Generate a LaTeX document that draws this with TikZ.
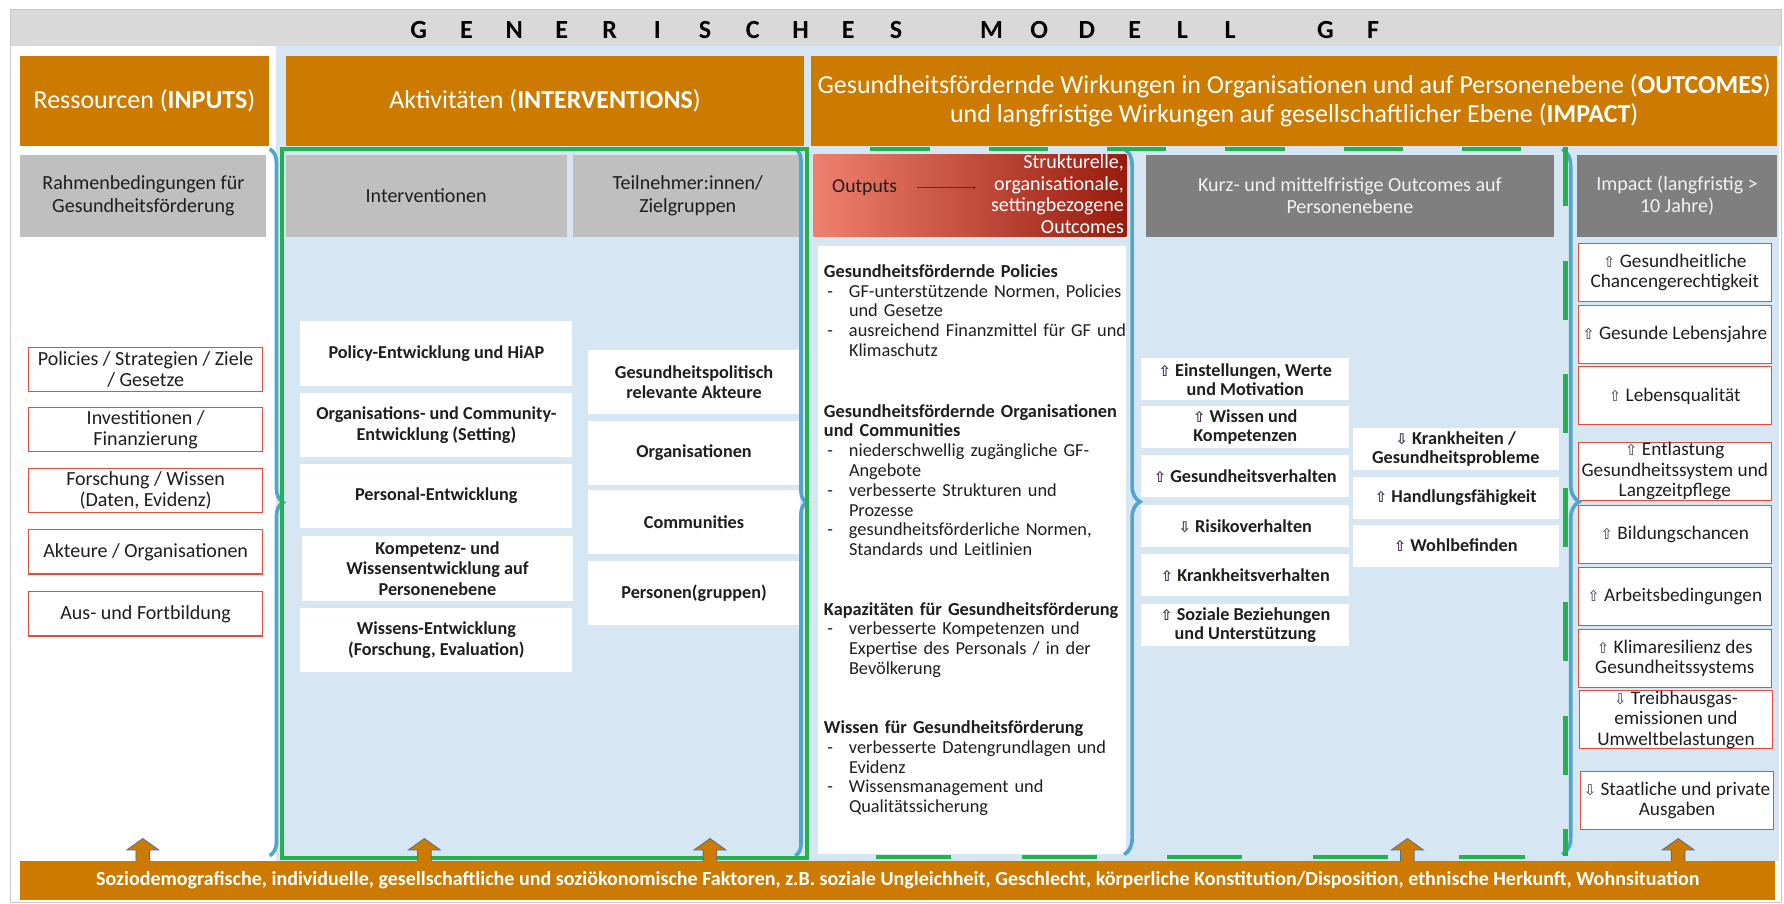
\documentclass[tikz,border=0pt]{standalone}
\usepackage{fontspec}
\setmainfont{Carlito}
\newfontfamily\arrowfont{DejaVu Sans}
\usetikzlibrary{decorations.pathreplacing,arrows.meta}
\definecolor{hdrorange}{RGB}{204,122,0}
\definecolor{bgblue}{RGB}{215,230,243}
\definecolor{lgray}{RGB}{191,191,191}
\definecolor{dgray}{RGB}{127,127,127}
\definecolor{bandgray}{RGB}{217,217,217}
\definecolor{framegray}{RGB}{200,200,200}
\definecolor{boxred}{RGB}{232,76,61}
\definecolor{bracecol}{RGB}{79,166,204}
\definecolor{gfgreen}{RGB}{34,177,76}
\definecolor{txtdark}{RGB}{30,30,30}
\definecolor{arrcol}{RGB}{70,50,80}
\definecolor{arrblue}{RGB}{80,110,150}
\definecolor{arrdark}{RGB}{110,40,30}
\definecolor{outL}{RGB}{240,128,110}
\definecolor{outM}{RGB}{226,50,28}
\definecolor{outR}{RGB}{150,28,14}
\newcommand\gfup{{\arrowfont\fontsize{13}{13}\selectfont\color{arrcol}⇧}}
\newcommand\gfdn{{\arrowfont\fontsize{13}{13}\selectfont\color{arrcol}⇩}}
\newcommand\gfbul{\makebox[22pt][l]{\hspace{3pt}-}}
\newcommand\gfind{\hspace*{22pt}}
\newcommand\gfltr[1]{\makebox[41.95pt]{#1}}
\begin{document}
\begin{tikzpicture}[x=1pt,y=-1pt,
  rect/.style 2 args={minimum width=#1pt, minimum height=#2pt, inner sep=0pt, outer sep=0pt, align=center},
  orangehdr/.style={fill=hdrorange, text=white, font=\fontsize{22.8}{25}\selectfont},
  grayhdr/.style={fill=lgray, text=txtdark, font=\fontsize{17.6}{20}\selectfont},
  darkhdr/.style={fill=dgray, text=white!95!black, font=\fontsize{17.6}{20}\selectfont},
  redbox/.style={fill=white, draw=boxred, line width=0.9pt, text=txtdark, font=\fontsize{17.6}{18.5}\selectfont},
  whitebox/.style={fill=white, text=txtdark, font=\bfseries\fontsize{16}{18}\selectfont},
  outbox/.style={fill=white, text=txtdark, font=\bfseries\fontsize{16}{17}\selectfont},
  impbox/.style={fill=white, draw=boxred, line width=0.9pt, text=txtdark, font=\fontsize{16.9}{18}\selectfont},
  otext/.style={anchor=north west, inner sep=0pt, text width=268pt, align=left, text=txtdark, font=\fontsize{16.1}{17.4}\selectfont},
  bracestyle/.style={draw=bracecol, line width=3.2pt, decorate, decoration={brace, amplitude=#1}},
  greenline/.style={draw=gfgreen, line width=3.8pt},
  uparrow/.style={fill=hdrorange, draw=arrblue, line width=0.7pt}
]
\useasboundingbox (0,0) rectangle (1568,794);
\fill[white] (0,0) rectangle (1568,794);
\fill[bgblue] (243,40) rectangle (1564,757);
\fill[bandgray] (9,8) rectangle (1566,40);
\draw[framegray, line width=0.8pt] (9,8) rectangle (1566,793);

% title
\node[inner sep=0pt, font=\bfseries\fontsize{23}{23}\selectfont] (title) at (787.5,26)
 {\gfltr{G}\gfltr{E}\gfltr{N}\gfltr{E}\gfltr{R}\gfltr{I}\gfltr{S}\gfltr{C}\gfltr{H}\gfltr{E}\gfltr{S}\gfltr{}\gfltr{M}\gfltr{O}\gfltr{D}\gfltr{E}\gfltr{L}\gfltr{L}\gfltr{}\gfltr{G}\gfltr{F}};

% orange headers
\node[rect={218}{79}, orangehdr] (hA) at (127,88.5) {Ressourcen (\textbf{INPUTS})};
\node[rect={456}{79}, orangehdr] (hB) at (479,88.5) {Aktivitäten (\textbf{INTERVENTIONS})};
\node[rect={849}{79}, orangehdr] (hC) at (1137.5,88.5) {Gesundheitsfördernde Wirkungen in Organisationen und auf Personenebene (\textbf{OUTCOMES})\\und langfristige Wirkungen auf gesellschaftlicher Ebene (\textbf{IMPACT})};

% gray headers
\node[rect={216}{72}, grayhdr] (gA) at (126,172) {Rahmenbedingungen für\\Gesundheitsförderung};
\node[rect={247}{72}, grayhdr] (gB) at (374.5,172) {Interventionen};
\node[rect={201}{72}, grayhdr] (gC) at (604.5,172) {Teilnehmer:innen/\\Zielgruppen};
\node[rect={275}{72}, left color=outL, middle color=outM, right color=outR] (gO) at (852.5,172) {};
\node[rect={359}{72}, darkhdr] (gD) at (1186.5,172) {Kurz- und mittelfristige Outcomes auf\\Personenebene};
\node[rect={176}{72}, darkhdr] (gE) at (1474,172) {Impact (langfristig >\\10 Jahre)};

\node[inner sep=0pt, text=txtdark, font=\fontsize{17.3}{19}\selectfont] (outlbl) at (760,165) {Outputs};
\coordinate (oarrS) at (806,165);
\coordinate (oarrE) at (858,165);
\draw[-{Stealth[length=3pt,width=2.5pt]}, line width=0.8pt, draw=arrdark] (oarrS) -- (oarrE);
\node[anchor=north east, inner sep=0pt, align=right, text=white, font=\fontsize{17.6}{19}\selectfont] (struk) at (988,134.5) {\strut Strukturelle,\\organisationale,\\settingbezogene\\Outcomes};

% left red boxes
\node[redbox, rect={206}{39}] (r1) at (128,324.5) {Policies / Strategien / Ziele\\/ Gesetze};
\node[redbox, rect={206}{39}] (r2) at (128,377.5) {Investitionen /\\Finanzierung};
\node[redbox, rect={206}{39}] (r3) at (128,431) {Forschung / Wissen\\(Daten, Evidenz)};
\node[redbox, rect={206}{39}] (r4) at (128,485) {Akteure / Organisationen};
\node[redbox, rect={206}{39}] (r5) at (128,539.5) {Aus- und Fortbildung};

% interventions
\node[whitebox, rect={239}{57}] (i1) at (383.5,310.5) {Policy-Entwicklung und HiAP};
\node[whitebox, rect={239}{57}] (i2) at (383.5,373.5) {Organisations- und Community-\\Entwicklung (Setting)};
\node[whitebox, rect={239}{57}] (i3) at (383.5,436) {Personal-Entwicklung};
\node[whitebox, rect={239}{57}] (i4) at (384.5,499.5) {Kompetenz- und\\Wissensentwicklung auf\\Personenebene};
\node[whitebox, rect={239}{57}] (i5) at (383.5,562.5) {Wissens-Entwicklung\\(Forschung, Evaluation)};

% participants
\node[whitebox, rect={186}{56}] (t1) at (610,336) {Gesundheitspolitisch\\relevante Akteure};
\node[whitebox, rect={186}{56}] (t2) at (610,398) {Organisationen};
\node[whitebox, rect={186}{56}] (t3) at (610,459) {Communities};
\node[whitebox, rect={186}{56}] (t4) at (610,521.5) {Personen(gruppen)};

% outputs text box
\node[fill=white, rect={271}{535}] (obox) at (854.5,483.5) {};
\node[otext] (ob1) at (724,231.3) {\strut\textbf{Gesundheitsfördernde Policies}\\
\gfbul GF-unterstützende Normen, Policies\\
\gfind und Gesetze\\
\gfbul ausreichend Finanzmittel für GF und\\
\gfind Klimaschutz};
\node[otext] (ob2) at (724,354.3) {\strut\textbf{Gesundheitsfördernde Organisationen}\\
\textbf{und Communities}\\
\gfbul niederschwellig zugängliche GF-\\
\gfind Angebote\\
\gfbul verbesserte Strukturen und\\
\gfind Prozesse\\
\gfbul gesundheitsförderliche Normen,\\
\gfind Standards und Leitlinien};
\node[otext] (ob3) at (724,528.3) {\strut\textbf{Kapazitäten für Gesundheitsförderung}\\
\gfbul verbesserte Kompetenzen und\\
\gfind Expertise des Personals / in der\\
\gfind Bevölkerung};
\node[otext] (ob4) at (724,632.3) {\strut\textbf{Wissen für Gesundheitsförderung}\\
\gfbul verbesserte Datengrundlagen und\\
\gfind Evidenz\\
\gfbul Wissensmanagement und\\
\gfind Qualitätssicherung};

% outcomes
\node[outbox, rect={183}{37}] (o1) at (1094.5,333.5) {\gfup~Einstellungen, Werte\\und Motivation};
\node[outbox, rect={183}{37}] (o2) at (1094.5,375.5) {\gfup~Wissen und\\Kompetenzen};
\node[outbox, rect={183}{37}] (o3) at (1094.5,418.5) {\gfup~Gesundheitsverhalten};
\node[outbox, rect={183}{37}] (o4) at (1094.5,462.5) {\gfdn~Risikoverhalten};
\node[outbox, rect={183}{37}] (o5) at (1094.5,505.5) {\gfup~Krankheitsverhalten};
\node[outbox, rect={183}{37}] (o6) at (1094.5,549.5) {\gfup~Soziale Beziehungen\\und Unterstützung};
\node[outbox, rect={181}{37}] (p1) at (1279.5,394.5) {\gfdn~Krankheiten /\\Gesundheitsprobleme};
\node[outbox, rect={181}{37}] (p2) at (1279.5,437.5) {\gfup~Handlungsfähigkeit};
\node[outbox, rect={181}{37}] (p3) at (1279.5,479.5) {\gfup~Wohlbefinden};

% impact
\node[impbox, rect={170}{51}] (m1) at (1472,239.5) {\gfup~Gesundheitliche\\Chancengerechtigkeit};
\node[impbox, rect={170}{51}] (m2) at (1472,294) {\gfup~Gesunde Lebensjahre};
\node[impbox, rect={170}{51}] (m3) at (1472,348) {\gfup~Lebensqualität};
\node[impbox, rect={170}{51}] (m4) at (1472,414) {\gfup~Entlastung\\Gesundheitssystem und\\Langzeitpflege};
\node[impbox, rect={170}{51}] (m5) at (1472,470) {\gfup~Bildungschancen};
\node[impbox, rect={170}{51}] (m6) at (1472,524.5) {\gfup~Arbeitsbedingungen};
\node[impbox, rect={170}{51}] (m7) at (1472,578.5) {\gfup~Klimaresilienz des\\Gesundheitssystems};
\node[impbox, rect={170}{51}] (m8) at (1473,632.5) {\gfdn~Treibhausgas-\\emissionen und\\Umweltbelastungen};
\node[impbox, rect={170}{51}] (m9) at (1474,703.5) {\gfdn~Staatliche und private\\Ausgaben};

% braces
\draw[bracestyle=12pt] (237,131) -- (237,752);
\draw[bracestyle=10pt] (699,131) -- (699,752);
\draw[bracestyle=14pt] (988,131) -- (988,751);
\draw[bracestyle=15pt] (1373,131) -- (1373,751);

% green frames
\draw[greenline] (248,131) rectangle (709,754);
\draw[greenline, dash pattern=on 52pt off 52pt] (765,131) -- (1376,131);
\draw[greenline, dash pattern=on 66pt off 62pt] (770,753) -- (1340,753);
\draw[greenline, dash pattern=on 52pt off 48pt] (1376,129) -- (1376,752);

% up arrows
\foreach \ax in {125.5,373,624,1237,1475} {
  \filldraw[uparrow] (\ax-6,758) -- (\ax-6,747) -- (\ax-14,747) -- (\ax,737) -- (\ax+14,747) -- (\ax+6,747) -- (\ax+6,758) -- cycle;
}

% bottom bar
\node[rect={1542}{34}, fill=hdrorange, text=white, font=\bfseries\fontsize{17.6}{18}\selectfont] (bar) at (789,774) {Soziodemografische, individuelle, gesellschaftliche und soziökonomische Faktoren, z.B. soziale Ungleichheit, Geschlecht, körperliche Konstitution/Disposition, ethnische Herkunft, Wohnsituation};
\end{tikzpicture}
\end{document}
